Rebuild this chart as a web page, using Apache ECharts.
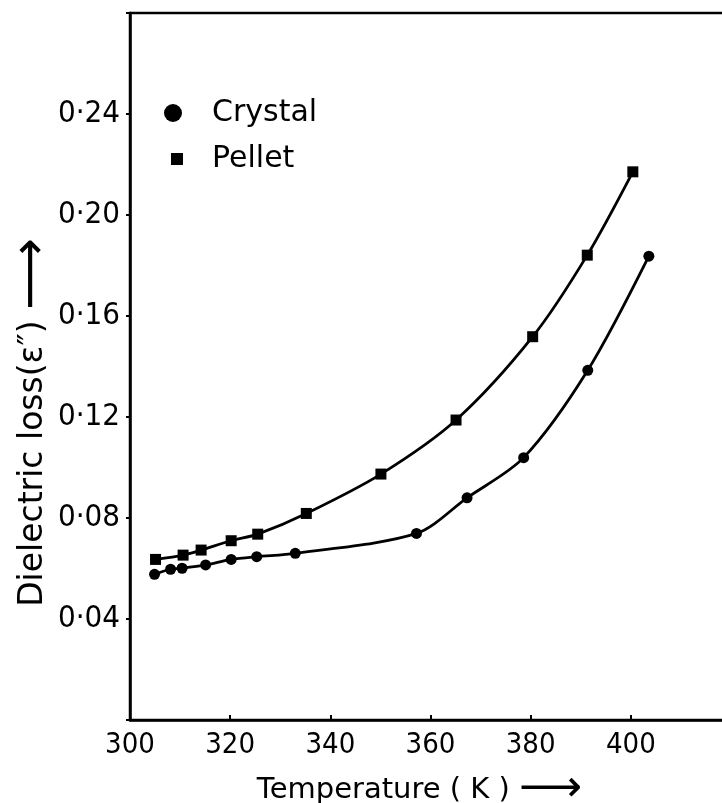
<!DOCTYPE html>
<html>
<head>
<meta charset="utf-8">
<script src="https://cdn.jsdelivr.net/npm/echarts@6/dist/echarts.min.js"></script>
<style>
html,body{margin:0;padding:0;background:#fff;}
#chart{width:722px;height:803px;}
</style>
</head>
<body>
<div id="chart"></div>
<script>
// Data
var crystalT = [304.9, 308.1, 310.4, 315.1, 320.2, 325.3, 333.0, 357.2, 367.3, 378.6, 391.4, 403.6];
var crystalLoss = [0.0577, 0.0597, 0.0601, 0.0614, 0.0636, 0.0647, 0.0660, 0.0739, 0.0880, 0.1039, 0.1385, 0.1837];
var pelletT = [305.1, 310.6, 314.2, 320.2, 325.5, 335.2, 350.1, 365.1, 380.4, 391.3, 400.4];
var pelletLoss = [0.0636, 0.0653, 0.0673, 0.0710, 0.0736, 0.0818, 0.0974, 0.1188, 0.1518, 0.1841, 0.2171];
var xTickLabels = [300, 320, 340, 360, 380, 400];
var yTickLabels = ['0·04', '0·08', '0·12', '0·16', '0·20', '0·24'];
var seriesNames = ['Crystal', 'Pellet'];

function pairs(xs, ys) { return xs.map(function (x, i) { return [x, ys[i]]; }); }

var narrow = '"Liberation Sans Narrow", "DejaVu Sans Condensed", sans-serif';
var regular = '"DejaVu Sans", sans-serif';

var chart = echarts.init(document.getElementById('chart'), null, { renderer: 'canvas' });
chart.setOption({
  animation: false,
  backgroundColor: '#fff',
  grid: { left: 130, top: 13, right: -9, bottom: 83, show: true, borderColor: '#000', borderWidth: 2.5,
    outerBoundsMode: 'none', containLabel: false },
  legend: [
    {
      data: [seriesNames[0]], orient: 'vertical', left: 164, top: 98, padding: 0,
      icon: 'circle', itemWidth: 18, itemHeight: 18,
      textStyle: { fontFamily: regular, fontSize: 30, color: '#000', lineHeight: 30, padding: [0, 0, 0, 25] }
    },
    {
      data: [seriesNames[1]], orient: 'vertical', left: 171, top: 144, padding: 0,
      icon: 'rect', itemWidth: 12, itemHeight: 12,
      textStyle: { fontFamily: regular, fontSize: 30, color: '#000', lineHeight: 30, padding: [0, 0, 0, 24] }
    }
  ],
  xAxis: {
    type: 'value', min: 300, max: 420, interval: 20,
    name: 'Temperature ( K ) {a|⟶}', nameLocation: 'middle', nameGap: 48, nameMoveOverlap: false,
    nameTextStyle: { fontFamily: regular, fontSize: 29, color: '#000', padding: [0, 22, 0, 0],
      rich: { a: { fontFamily: regular, fontSize: 44, color: '#000' } } },
    axisLine: { lineStyle: { color: '#000', width: 2.5 } },
    axisTick: { inside: true, length: 5, lineStyle: { color: '#000', width: 2 } },
    axisLabel: {
      margin: 11, fontFamily: narrow, fontSize: 29, color: '#000',
      formatter: function (v) { return xTickLabels.indexOf(v) >= 0 ? String(v) : ''; }
    },
    splitLine: { show: false }
  },
  yAxis: {
    type: 'value', min: 0, max: 0.28, interval: 0.04,
    name: 'Dielectric loss(ε″) {a|⟶}', nameLocation: 'middle', nameRotate: 90, nameGap: 72, nameMoveOverlap: false,
    nameTextStyle: { fontFamily: regular, fontSize: 33, color: '#000', padding: [0, 112, 0, 0],
      rich: { a: { fontFamily: regular, fontSize: 50, color: '#000' } } },
    axisLine: { show: true, lineStyle: { color: '#000', width: 2.5 } },
    axisTick: { show: true, inside: false, length: 4, lineStyle: { color: '#000', width: 2 } },
    axisLabel: {
      margin: 10, fontFamily: narrow, fontSize: 31, color: '#000',
      formatter: function (v) {
        var idx = Math.round(v / 0.04) - 1;
        return (idx >= 0 && idx < yTickLabels.length) ? yTickLabels[idx] : '';
      }
    },
    splitLine: { show: false }
  },
  series: [
    {
      name: seriesNames[0], type: 'line', smooth: 0.3,
      data: pairs(crystalT, crystalLoss),
      symbol: 'circle', symbolSize: 11,
      lineStyle: { color: '#000', width: 2.8 },
      itemStyle: { color: '#000' }
    },
    {
      name: seriesNames[1], type: 'line', smooth: 0.3,
      data: pairs(pelletT, pelletLoss),
      symbol: 'rect', symbolSize: 11,
      lineStyle: { color: '#000', width: 2.8 },
      itemStyle: { color: '#000' }
    }
  ]
});
</script>
</body>
</html>
